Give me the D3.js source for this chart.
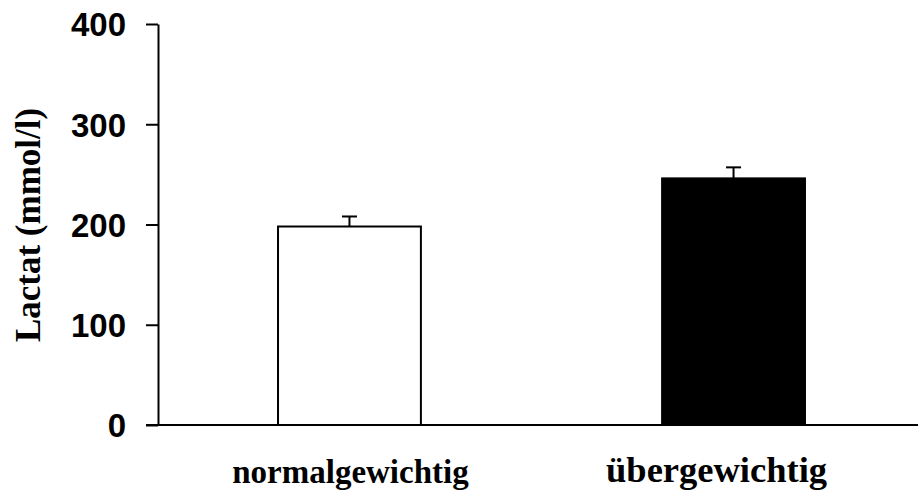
<!DOCTYPE html>
<html>
<head>
<meta charset="utf-8">
<script src="https://cdn.jsdelivr.net/npm/d3@7"></script>
<style>
  body { margin: 0; background: #fff; }
</style>
</head>
<body>
<script>
var width = 918;
var height = 498;

// data
var categories = ["normalgewichtig", "übergewichtig"];
var means = [198, 246];
var errors = [10, 11];
var fills = ["#ffffff", "#000000"];
var yTicks = [0, 100, 200, 300, 400];

var svg = d3.select("body").append("svg")
    .attr("width", width)
    .attr("height", height);

var y = d3.scaleLinear().domain([0, 400]).range([425, 24]);
var x = d3.scaleBand().domain(categories)
    .range([158, 925])
    .paddingInner(0.628)
    .paddingOuter(0.3125);

// bars
svg.selectAll("rect.bar")
    .data(categories)
    .enter()
    .append("rect")
    .attr("class", "bar")
    .attr("x", function (d) { return x(d); })
    .attr("y", function (d, i) { return y(means[i]); })
    .attr("width", x.bandwidth())
    .attr("height", function (d, i) { return y(0) - y(means[i]); })
    .style("fill", function (d, i) { return fills[i]; })
    .style("stroke", "#000")
    .style("stroke-width", 2);

// error bars (upper only)
var err = svg.selectAll("g.err")
    .data(categories)
    .enter()
    .append("g")
    .attr("class", "err")
    .style("stroke", "#000")
    .style("stroke-width", 2);

err.append("line")
    .attr("x1", function (d) { return x(d) + x.bandwidth() / 2; })
    .attr("x2", function (d) { return x(d) + x.bandwidth() / 2; })
    .attr("y1", function (d, i) { return y(means[i]); })
    .attr("y2", function (d, i) { return y(means[i] + errors[i]); });

err.append("line")
    .attr("x1", function (d) { return x(d) + x.bandwidth() / 2 - 7.5; })
    .attr("x2", function (d) { return x(d) + x.bandwidth() / 2 + 7.5; })
    .attr("y1", function (d, i) { return y(means[i] + errors[i]); })
    .attr("y2", function (d, i) { return y(means[i] + errors[i]); });

// y axis
var yAxis = d3.axisLeft(y)
    .tickValues(yTicks)
    .tickSize(12)
    .tickPadding(20)
    .tickSizeOuter(0);

var gy = svg.append("g")
    .attr("transform", "translate(158,0)")
    .call(yAxis);
gy.select(".domain").style("stroke-width", 2);
gy.selectAll(".tick line").style("stroke-width", 2);
gy.selectAll(".tick text")
    .style("font-family", "'Liberation Sans', Arial, sans-serif")
    .style("font-weight", "bold")
    .style("font-size", "33px")
    .attr("dy", "0.36em");

// x axis line
svg.append("line")
    .attr("x1", 146)
    .attr("x2", width)
    .attr("y1", y(0))
    .attr("y2", y(0))
    .style("stroke", "#000")
    .style("stroke-width", 2);

// category labels (the second one is set a little larger in the original)
svg.selectAll("text.cat")
    .data(categories)
    .enter()
    .append("text")
    .attr("class", "cat")
    .attr("x", function (d, i) { return x(d) + x.bandwidth() / 2 + (i === 1 ? -17 : 1); })
    .attr("y", function (d, i) { return i === 1 ? 482 : 483; })
    .attr("text-anchor", "middle")
    .style("font-family", "'Liberation Serif', 'Times New Roman', serif")
    .style("font-weight", "bold")
    .style("font-size", function (d, i) { return i === 1 ? "36.5px" : "33px"; })
    .text(function (d) { return d; });

// y title
svg.append("text")
    .attr("transform", "translate(40,225) rotate(-90)")
    .attr("text-anchor", "middle")
    .style("font-family", "'Liberation Serif', 'Times New Roman', serif")
    .style("font-weight", "bold")
    .style("font-size", "35px")
    .text("Lactat (mmol/l)");
</script>
</body>
</html>
